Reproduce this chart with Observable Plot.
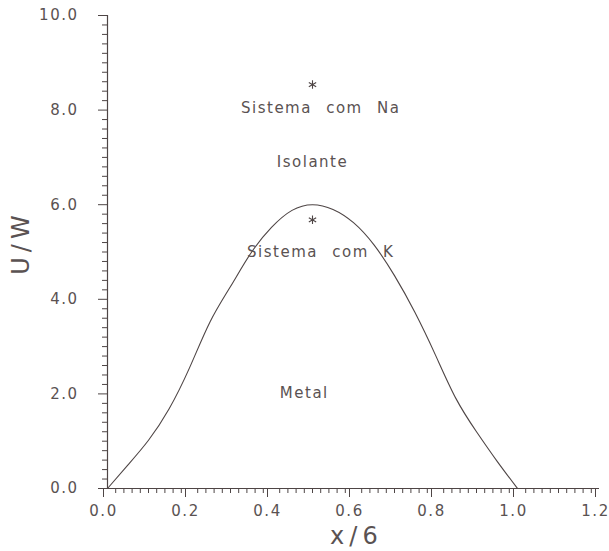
<!DOCTYPE html>
<html><head><meta charset="utf-8">
<script src="https://cdn.jsdelivr.net/npm/d3@7"></script>
<script src="https://cdn.jsdelivr.net/npm/@observablehq/plot@0.6"></script>
<style>body{margin:0;background:#fff;font-family:"DejaVu Sans",sans-serif;}</style>
</head><body><div id="chart"></div>
<script>
// Boundary curve U/W vs x/6
const curveX = [0, 0.05, 0.10, 0.15, 0.20, 0.25, 0.30, 0.35, 0.40, 0.45, 0.50, 0.55, 0.60, 0.65, 0.70, 0.75, 0.80, 0.85, 0.90, 0.95, 1.00];
const curveY = [0, 0.50, 1.02, 1.68, 2.55, 3.52, 4.27, 4.98, 5.52, 5.88, 6.00, 5.90, 5.62, 5.15, 4.50, 3.72, 2.82, 1.90, 1.20, 0.58, 0];

// Asterisk markers
const starX = [0.50, 0.50];
const starY = [8.54, 5.68];

// Annotations
const noteText = ["Sistema com Na", "Isolante", "Sistema com K", "Metal"];
const noteX = [0.52, 0.50, 0.52, 0.48];
const noteY = [8.04, 6.90, 5.00, 2.02];

// Axes
const xMajor = [0, 0.2, 0.4, 0.6, 0.8, 1.0, 1.2];
const yMajor = [0, 2, 4, 6, 8, 10];
const xMinorStep = 0.02;
const yMinorStep = 0.2;
const xTitle = "x/6";
const yTitle = "U/W";
const xTitlePos = [0.607];
const yTitlePos = [5.2];

const xMinor = d3.range(0, 1.2 + 1e-9, xMinorStep).filter(v => !xMajor.some(m => Math.abs(m - v) < 1e-6));
const yMinor = d3.range(0, 10 + 1e-9, yMinorStep).filter(v => !yMajor.some(m => Math.abs(m - v) < 1e-6));

const curve = curveX.map((x, i) => ({x, y: curveY[i]}));
const stars = starX.map((x, i) => ({x, y: starY[i]}));
const notes = noteText.map((t, i) => ({t, x: noteX[i], y: noteY[i]}));

const ink = "#4e4545";
const txt = "#5a5252";

const svg = Plot.plot({
  width: 609,
  height: 551,
  marginLeft: 107,
  marginRight: 10,
  marginTop: 15,
  marginBottom: 63,
  style: {fontFamily: "DejaVu Sans, sans-serif", fontSize: "15px", color: txt, background: "#fff", overflow: "visible"},
  x: {domain: [0, 1.2]},
  y: {domain: [0, 10]},
  marks: [
    Plot.axisX({ticks: xMajor, tickSize: 9, tickPadding: 8, tickFormat: d3.format(".1f"), fontSize: 15, dx: -4, stroke: ink, fill: txt, label: null}),
    Plot.axisX({ticks: xMinor, tickSize: 5, tickFormat: () => "", stroke: ink, label: null}),
    Plot.axisY({ticks: yMajor, tickSize: 9, tickPadding: 20, tickFormat: d3.format(".1f"), fontSize: 15, stroke: ink, fill: txt, label: null}),
    Plot.axisY({ticks: yMinor, tickSize: 5, tickFormat: () => "", stroke: ink, label: null}),
    Plot.ruleY([0], {stroke: ink, strokeWidth: 1.2}),
    Plot.ruleX([0], {stroke: ink, strokeWidth: 1.2}),
    Plot.line(curve, {x: "x", y: "y", curve: "natural", stroke: ink, strokeWidth: 1.1}),
    Plot.dot(stars, {x: "x", y: "y", symbol: "asterisk", r: 4, stroke: ink, strokeWidth: 1.1}),
    Plot.text(notes, {x: "x", y: "y", text: "t", fontSize: 15, fill: txt}),
    Plot.text(xTitlePos, {x: d => d, frameAnchor: "bottom", lineAnchor: "middle", textAnchor: "middle", dy: 48, text: () => xTitle, fontSize: 24, fill: txt}),
    Plot.text(yTitlePos, {y: d => d, frameAnchor: "left", lineAnchor: "middle", textAnchor: "middle", dx: -86, rotate: -90, text: () => yTitle, fontSize: 24, fill: txt})
  ]
});
const s = d3.select(svg);
s.selectAll("g[aria-label$='tick label']").style("font-size", "15px");
s.selectAll("text").attr("letter-spacing", "1.5px").attr("word-spacing", "8px");
s.selectAll("g[aria-label='text'] text").filter(function(){ return this.textContent === xTitle || this.textContent === yTitle; }).attr("letter-spacing", "5px");
document.getElementById("chart").appendChild(svg);
</script>
</body></html>
